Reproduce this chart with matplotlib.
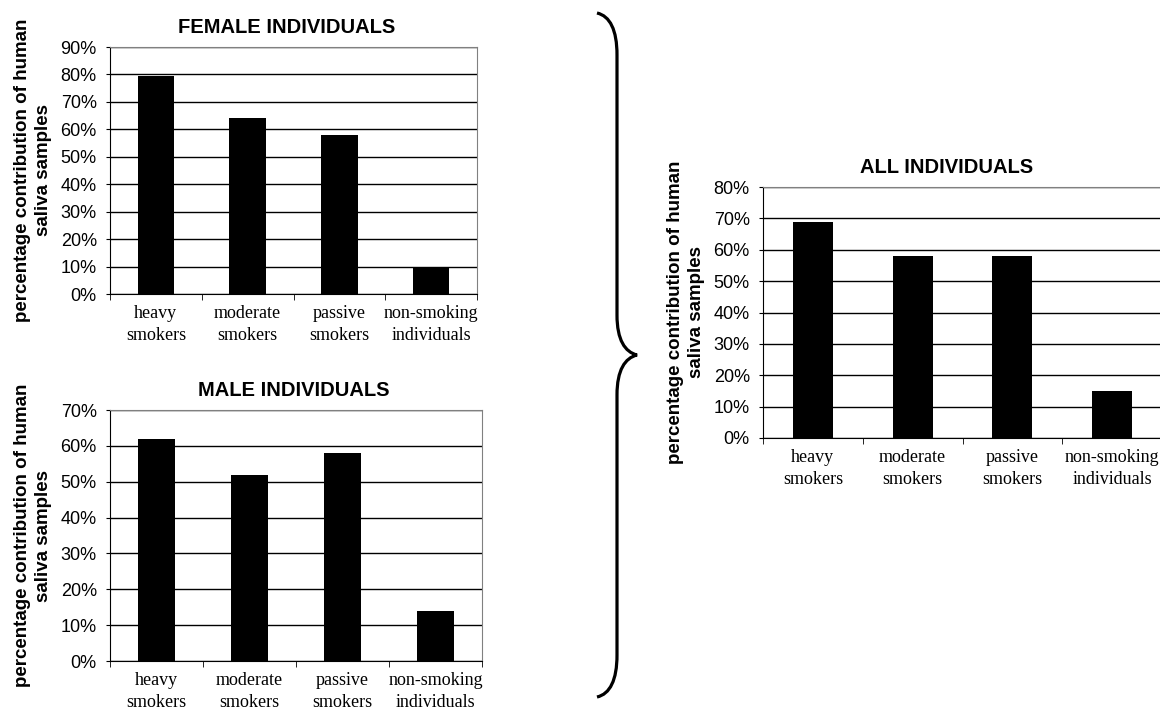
import matplotlib
matplotlib.use("Agg")
import matplotlib.pyplot as plt
from matplotlib.path import Path
from matplotlib.patches import PathPatch
from matplotlib.ticker import PercentFormatter

# --- dados ---
categorias = ["heavy\nsmokers", "moderate\nsmokers", "passive\nsmokers", "non-smoking\nindividuals"]
female = [79.5, 64, 58, 10]
male = [62, 52, 58, 14]
todos = [69, 58, 58, 15]
ylabel = "percentage contribution of human\nsaliva samples"

W, H = 1160, 711
fig = plt.figure(figsize=(W / 100, H / 100), dpi=100)
plt.rcParams["font.family"] = "Liberation Sans"


def px(l, t, r, b):
    # caixa em pixels -> fração da figura
    return [l / W, 1 - b / H, (r - l) / W, (b - t) / H]


def painel(rect, valores, titulo, ymax, tx):
    ax = fig.add_axes(rect)
    x = range(len(valores))
    ax.set_axisbelow(True)
    ax.yaxis.grid(True, color="black", lw=1)
    ax.bar(x, valores, width=0.4, color="black")
    ax.set_xlim(-0.5, len(valores) - 0.5)
    ax.set_ylim(0, ymax)
    ax.set_yticks(range(0, ymax + 1, 10))
    ax.yaxis.set_major_formatter(PercentFormatter(decimals=0))
    ax.tick_params(axis="y", labelsize=13, length=3, direction="out", pad=6.5)
    ax.set_xticks(list(x))
    ax.set_xticklabels(categorias, family="Liberation Serif", fontsize=13, linespacing=1.4)
    ax.tick_params(axis="x", length=0, pad=8)
    ax.set_xticks([i - 0.5 for i in range(len(valores) + 1)], minor=True)
    ax.tick_params(axis="x", which="minor", length=4, direction="out")
    for s in ["left", "bottom"]:
        ax.spines[s].set_color("black")
    for s in ["top", "right"]:
        ax.spines[s].set_color("#808080")
    ax.set_title(titulo, fontsize=14.5, fontweight="bold", pad=10, x=tx)
    ax.set_ylabel(ylabel, fontsize=13.5, fontweight="bold", linespacing=1.35, labelpad=6)
    return ax


painel(px(110, 47, 477, 294), female, "FEMALE INDIVIDUALS", 90, 0.48)
painel(px(110, 410, 482, 661), male, "MALE INDIVIDUALS", 70, 0.495)
painel(px(763, 187, 1162, 438), todos, "ALL INDIVIDUALS", 80, 0.46)

# --- chave "}" ---
pts = [(597, 13), (610, 16), (617, 30), (617, 55),
       (617, 315),
       (617, 340), (625, 352), (637, 355),
       (625, 358), (617, 370), (617, 395),
       (617, 655),
       (617, 680), (610, 694), (597, 697)]
codes = [Path.MOVETO, Path.CURVE4, Path.CURVE4, Path.CURVE4,
         Path.LINETO,
         Path.CURVE4, Path.CURVE4, Path.CURVE4,
         Path.CURVE4, Path.CURVE4, Path.CURVE4,
         Path.LINETO,
         Path.CURVE4, Path.CURVE4, Path.CURVE4]
verts = [(a / W, 1 - b / H) for a, b in pts]
fig.patches.append(PathPatch(Path(verts, codes), transform=fig.transFigure,
                             fill=False, lw=2.3, color="black"))

fig.savefig("out.png", dpi=100)
